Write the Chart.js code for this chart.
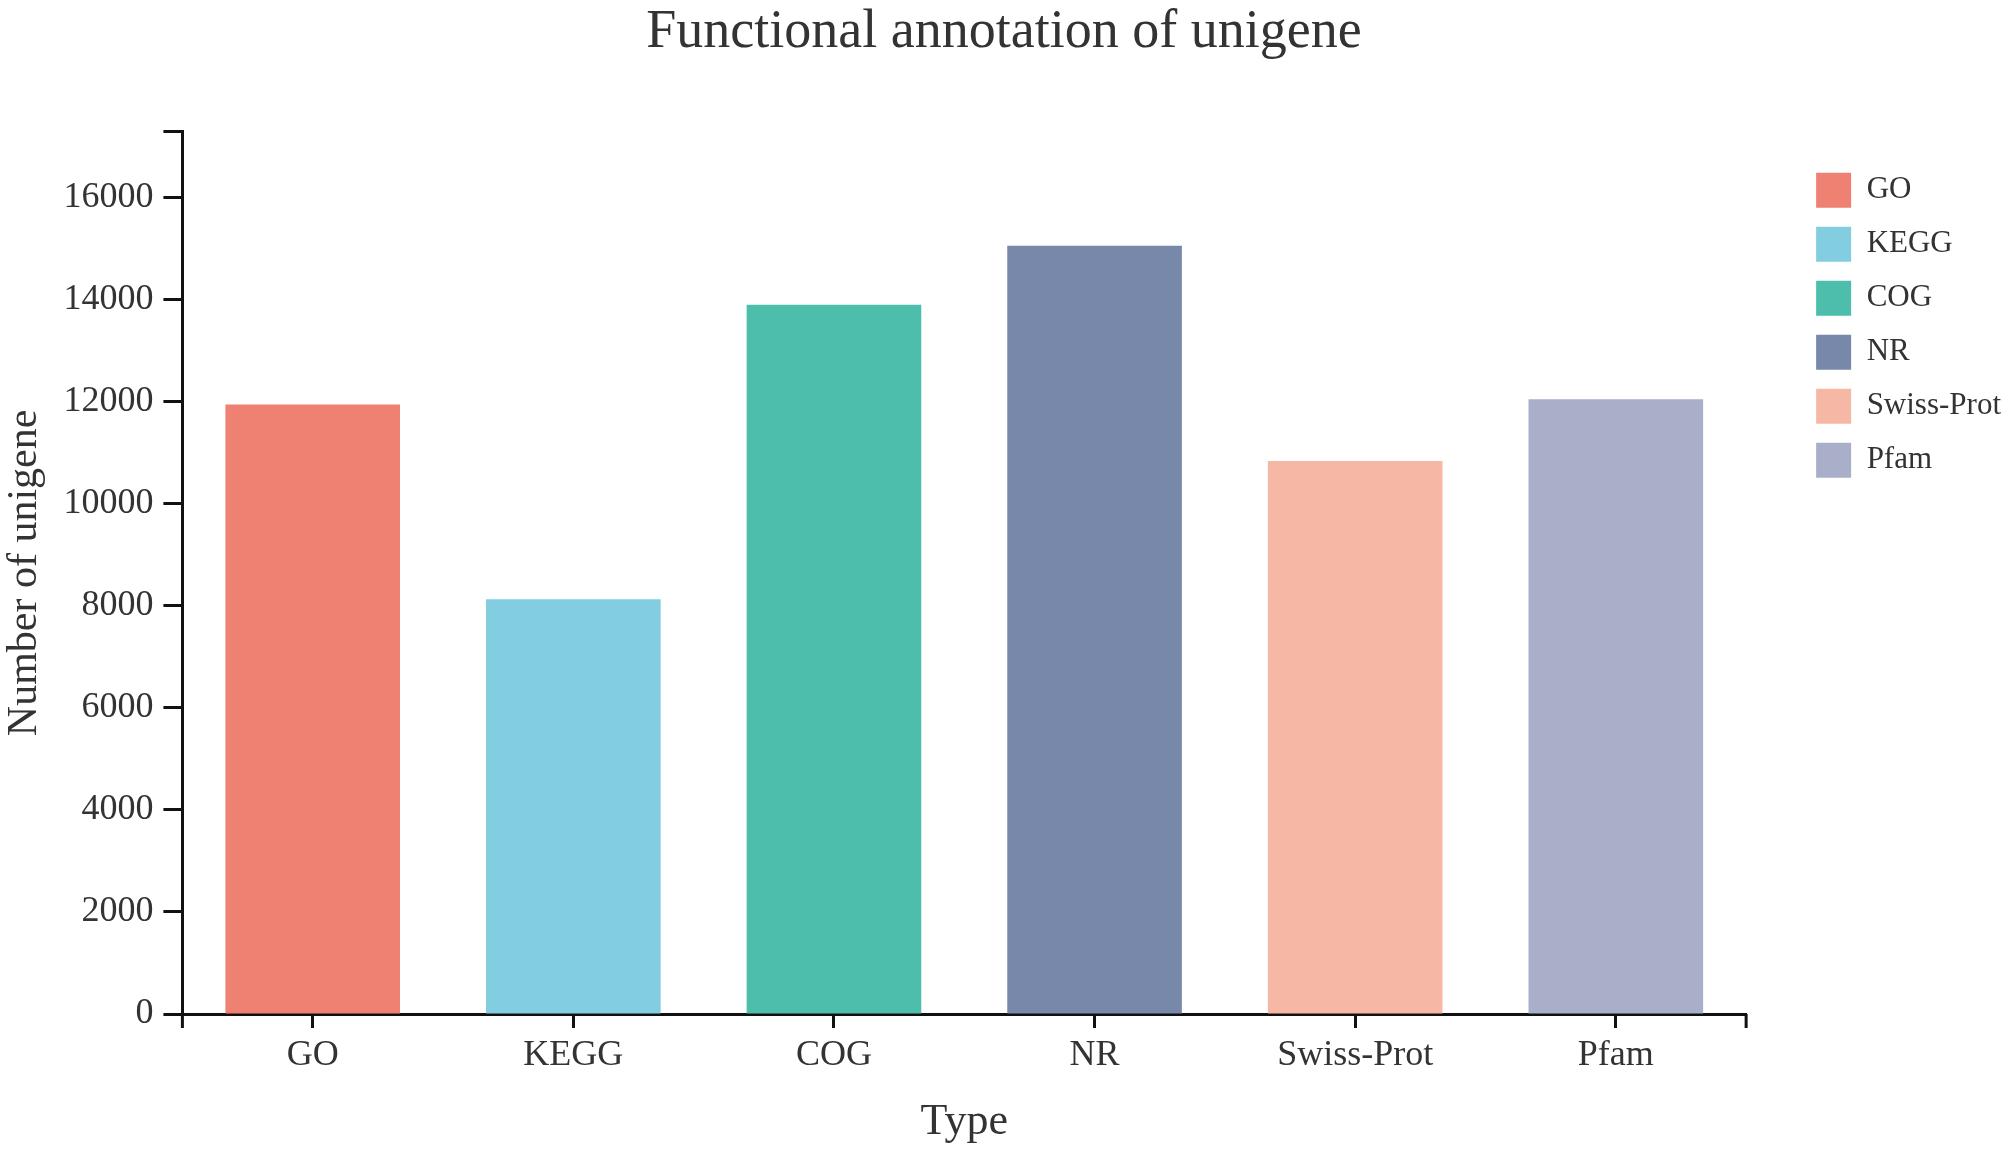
<!DOCTYPE html>
<html>
<head>
<meta charset="utf-8">
<script src="https://cdn.jsdelivr.net/npm/chart.js@4.4.0/dist/chart.umd.min.js"></script>
<style>
  html, body { margin: 0; padding: 0; background: #fff; }
  canvas { display: block; }
</style>
</head>
<body>
<canvas id="chart" width="2008" height="1150"></canvas>
<script>
// Data
const categories = ['GO', 'KEGG', 'COG', 'NR', 'Swiss-Prot', 'Pfam'];
const unigeneCounts = [11940, 8125, 13890, 15050, 10830, 12040];
const barColors = ['#EE8172', '#83CDE1', '#4DBEAC', '#7788AB', '#F6B8A5', '#A9AFC8'];
const yMax = 17280;
const yTickValues = [0, 2000, 4000, 6000, 8000, 10000, 12000, 14000, 16000, yMax];

const FONT = "'Liberation Serif', 'Times New Roman', serif";
const TEXT = '#333333';
const AXIS = '#111111';

// small tick marks at both ends of the x axis, like the original
const axisEndTicks = {
    id: 'axisEndTicks',
    afterDraw(chart) {
        const { ctx, chartArea } = chart;
        ctx.save();
        ctx.strokeStyle = AXIS;
        ctx.lineWidth = 3;
        ctx.beginPath();
        [chartArea.left, chartArea.right].forEach(x => {
            ctx.moveTo(x, chartArea.bottom);
            ctx.lineTo(x, chartArea.bottom + 14);
        });
        ctx.stroke();
        ctx.restore();
    }
};

// leave some room between the plot and the legend
const legendGap = {
    id: 'legendGap',
    beforeInit(chart) {
        const legend = chart.legend;
        const fit = legend.fit;
        legend.fit = function () {
            fit.call(this);
            this.width += 48;
        };
    },
    afterLayout(chart) {
        chart.legend.left += 51;
    }
};

const ctx = document.getElementById('chart').getContext('2d');

new Chart(ctx, {
    type: 'bar',
    data: {
        labels: categories,
        datasets: [{
            label: 'Number of unigene',
            data: unigeneCounts,
            backgroundColor: barColors,
            borderWidth: 0,
            categoryPercentage: 1,
            barPercentage: 0.67
        }]
    },
    options: {
        responsive: false,
        devicePixelRatio: 1,
        animation: false,
        layout: { padding: { top: 0, right: 0, bottom: 1, left: 0 } },
        scales: {
            x: {
                offset: true,
                grid: {
                    offset: false,
                    drawOnChartArea: false,
                    drawTicks: true,
                    tickLength: 14,
                    tickWidth: 3,
                    tickColor: AXIS
                },
                border: { display: true, color: AXIS, width: 3 },
                ticks: { color: TEXT, font: { family: FONT, size: 36 }, padding: 6 },
                title: {
                    display: true,
                    text: 'Type',
                    color: TEXT,
                    font: { family: FONT, size: 44 },
                    padding: { top: 13, bottom: 0 }
                }
            },
            y: {
                min: 0,
                max: yMax,
                afterBuildTicks: scale => {
                    scale.ticks = yTickValues.map(v => ({ value: v }));
                },
                ticks: {
                    color: TEXT,
                    font: { family: FONT, size: 36 },
                    padding: 10,
                    callback: v => (v === yMax ? '' : v)
                },
                grid: {
                    drawOnChartArea: false,
                    drawTicks: true,
                    tickLength: 19,
                    tickWidth: 3,
                    tickColor: AXIS
                },
                border: { display: true, color: AXIS, width: 3 },
                title: {
                    display: true,
                    text: 'Number of unigene',
                    color: TEXT,
                    font: { family: FONT, size: 42 },
                    padding: { top: 0, bottom: 3 }
                }
            }
        },
        plugins: {
            title: {
                display: true,
                text: 'Functional annotation of unigene',
                color: TEXT,
                font: { family: FONT, size: 54, weight: 'normal' },
                padding: { top: 0, bottom: 67 }
            },
            legend: {
                position: 'right',
                align: 'start',
                fullSize: false,
                title: {
                    display: true,
                    text: '',
                    font: { size: 10 },
                    padding: { top: 5, bottom: 5 }
                },
                labels: {
                    color: TEXT,
                    font: { family: FONT, size: 31 },
                    boxWidth: 35,
                    boxHeight: 35,
                    padding: 19,
                    generateLabels: chart => categories.map((c, i) => ({
                        text: c,
                        fillStyle: barColors[i],
                        strokeStyle: barColors[i],
                        fontColor: TEXT,
                        lineWidth: 0,
                        hidden: false,
                        index: i
                    }))
                }
            },
            tooltip: { enabled: false }
        }
    },
    plugins: [axisEndTicks, legendGap]
});
</script>
</body>
</html>
